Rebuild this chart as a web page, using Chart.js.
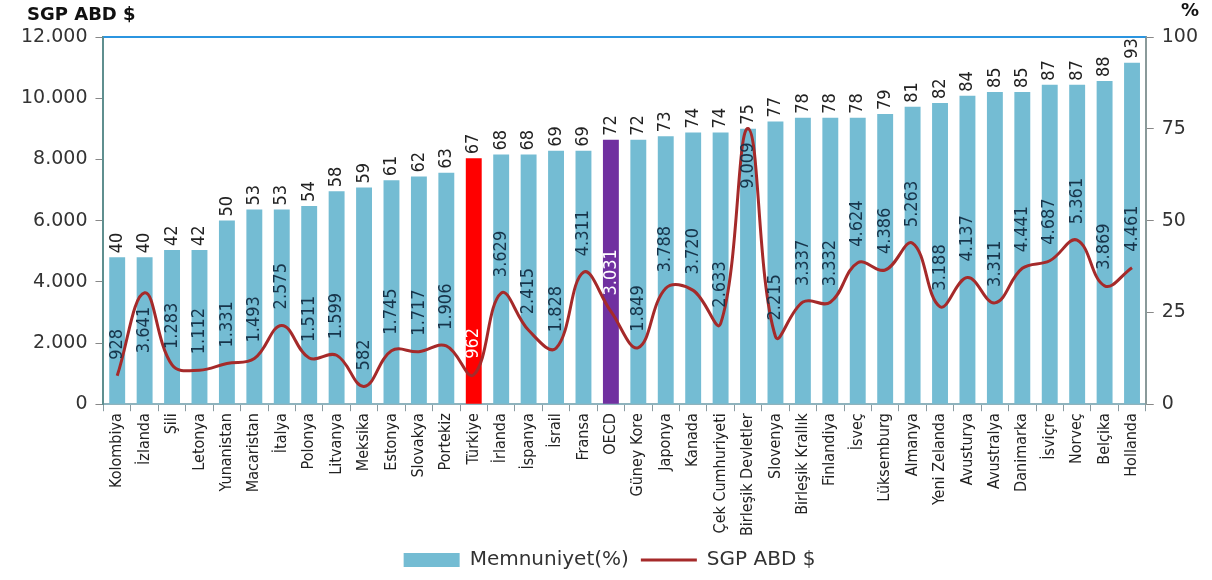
<!DOCTYPE html>
<html>
<head>
<meta charset="utf-8">
<script src="https://cdn.jsdelivr.net/npm/chart.js@4.4.0/dist/chart.umd.min.js"></script>
<style>
  body { margin: 0; background: #fff; }
  #wrap { width: 1212px; height: 580px; }
</style>
</head>
<body>
<div id="wrap"><canvas id="chart"></canvas></div>
<script>
const countries = ['Kolombiya', 'İzlanda', 'Şili', 'Letonya', 'Yunanistan', 'Macaristan', 'İtalya', 'Polonya',
  'Litvanya', 'Meksika', 'Estonya', 'Slovakya', 'Portekiz', 'Türkiye', 'İrlanda', 'İspanya', 'İsrail', 'Fransa',
  'OECD', 'Güney Kore', 'Japonya', 'Kanada', 'Çek Cumhuriyeti', 'Birleşik Devletler', 'Slovenya',
  'Birleşik Krallık', 'Finlandiya', 'İsveç', 'Lüksemburg', 'Almanya', 'Yeni Zelanda', 'Avusturya',
  'Avustralya', 'Danimarka', 'İsviçre', 'Norveç', 'Belçika', 'Hollanda'];

// Memnuniyet (%)
const satisfaction = [40, 40, 42, 42, 50, 53, 53, 54, 58, 59, 61, 62, 63, 67, 68, 68, 69, 69,
  72, 72, 73, 74, 74, 75, 77, 78, 78, 78, 79, 81, 82, 84, 85, 85, 87, 87, 88, 93];

// SGP ABD $
const spending = [928, 3641, 1283, 1112, 1331, 1493, 2575, 1511, 1599, 582, 1745, 1717, 1906, 962,
  3629, 2415, 1828, 4311, 3031, 1849, 3788, 3720, 2633, 9009, 2215, 3337, 3332, 4624, 4386, 5263,
  3188, 4137, 3311, 4441, 4687, 5361, 3869, 4461];

const barBlue = '#74bcd3';
const special = { 'Türkiye': '#ff0000', 'OECD': '#7030a0' };
const lineRed = '#a52a2a';

function fmt(v) {
  return String(v).replace(/\B(?=(\d{3})+(?!\d))/g, '.');
}

const narrow = '"Liberation Sans Narrow", "DejaVu Sans Condensed", "Liberation Sans", sans-serif';
const dejavu = '"DejaVu Sans", sans-serif';

// labels on bars and on the line
const valueLabels = {
  id: 'valueLabels',
  afterDatasetsDraw(chart) {
    const ctx = chart.ctx;
    const bars = chart.getDatasetMeta(0).data;
    const pts = chart.getDatasetMeta(1).data;
    ctx.save();
    ctx.font = '18px ' + narrow;
    ctx.textBaseline = 'middle';
    bars.forEach((bar, i) => {
      ctx.save();
      ctx.translate(bar.x, bar.y - 4);
      ctx.rotate(-Math.PI / 2);
      ctx.textAlign = 'left';
      ctx.fillStyle = '#222';
      ctx.fillText(satisfaction[i], 0, 0);
      ctx.restore();
    });
    pts.forEach((pt, i) => {
      const prev = i > 0 ? spending[i - 1] : spending[i];
      const next = i < spending.length - 1 ? spending[i + 1] : spending[i];
      const peak = spending[i] - Math.max(prev, next) > 1500;
      ctx.save();
      ctx.translate(pt.x, peak ? pt.y + 14 : pt.y - 16);
      ctx.rotate(-Math.PI / 2);
      ctx.textAlign = peak ? 'right' : 'left';
      ctx.fillStyle = special[countries[i]] ? '#ffffff' : '#17344a';
      ctx.fillText(fmt(spending[i]), 0, 0);
      ctx.restore();
    });
    ctx.restore();
  }
};

// top border line and axis titles
const frame = {
  id: 'frame',
  beforeDatasetsDraw(chart) {
    const { ctx, chartArea } = chart;
    ctx.save();
    ctx.strokeStyle = '#2b95e0';
    ctx.lineWidth = 2;
    ctx.beginPath();
    ctx.moveTo(chartArea.left, chartArea.top);
    ctx.lineTo(chartArea.right, chartArea.top);
    ctx.stroke();
    ctx.restore();
  },
  afterDraw(chart) {
    const ctx = chart.ctx;
    ctx.save();
    ctx.fillStyle = '#111';
    ctx.font = 'bold 18px ' + dejavu;
    ctx.textBaseline = 'middle';
    ctx.textAlign = 'left';
    ctx.fillText('SGP ABD $', 27, 15);
    ctx.fillText('%', 1181, 11);
    ctx.restore();
  }
};

new Chart(document.getElementById('chart'), {
  type: 'bar',
  data: {
    labels: countries,
    datasets: [
      {
        label: 'Memnuniyet(%)',
        data: satisfaction,
        yAxisID: 'y1',
        backgroundColor: countries.map(c => special[c] || barBlue),
        categoryPercentage: 1,
        barPercentage: 0.58,
        order: 2
      },
      {
        type: 'line',
        label: 'SGP ABD $',
        data: spending,
        yAxisID: 'y',
        borderColor: lineRed,
        backgroundColor: lineRed,
        borderWidth: 3,
        pointRadius: 0,
        tension: 0.4,
        order: 1
      }
    ]
  },
  options: {
    responsive: true,
    maintainAspectRatio: false,
    animation: false,
    layout: { padding: { top: 37, left: 13, right: 6, bottom: 0 } },
    plugins: {
      tooltip: { enabled: false },
      legend: {
        position: 'bottom',
        labels: {
          usePointStyle: true,
          pointStyleWidth: 56,
          boxHeight: 14,
          padding: 12,
          color: '#333',
          font: { family: dejavu, size: 20 },
          sort: (a, b) => a.datasetIndex - b.datasetIndex,
          generateLabels(chart) {
            const items = Chart.defaults.plugins.legend.labels.generateLabels(chart);
            items.forEach(it => {
              if (it.datasetIndex === 0) { it.pointStyle = 'rect'; it.fillStyle = barBlue; it.lineWidth = 0; }
              else { it.pointStyle = 'line'; it.lineWidth = 3; it.strokeStyle = lineRed; }
            });
            return items;
          }
        }
      }
    },
    scales: {
      x: {
        grid: { drawOnChartArea: false, tickLength: 7, color: '#8a9aa0', offset: true },
        border: { color: '#8fb3bd', width: 2 },
        ticks: {
          autoSkip: false, maxRotation: 90, minRotation: 90, padding: 2,
          color: '#222', font: { family: narrow, size: 16 }
        }
      },
      y: {
        position: 'left',
        min: 0, max: 12000,
        grid: { drawOnChartArea: false, tickLength: 8, color: '#888' },
        border: { color: '#5f8f8f', width: 2 },
        ticks: { stepSize: 2000, padding: 8, color: '#333', font: { family: dejavu, size: 19 }, callback: v => fmt(v) }
      },
      y1: {
        position: 'right',
        min: 0, max: 100,
        grid: { drawOnChartArea: false, tickLength: 8, color: '#888' },
        border: { color: '#8a9a9a', width: 2 },
        ticks: { stepSize: 25, padding: 8, color: '#333', font: { family: dejavu, size: 19 } }
      }
    }
  },
  plugins: [frame, valueLabels]
});
</script>
</body>
</html>
